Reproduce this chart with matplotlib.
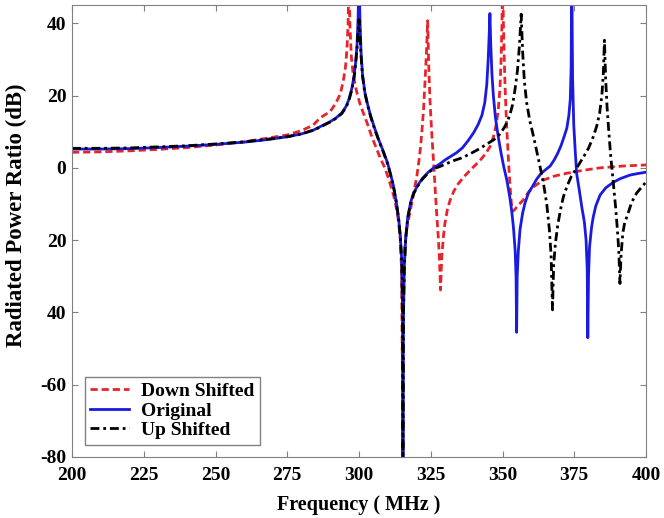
import matplotlib
matplotlib.use("Agg")
import matplotlib.pyplot as plt

# frequency (MHz) / radiated power ratio (dB) for each tuning case
freq_down = [200, 210, 220, 230, 240, 250, 260, 268, 275, 280, 284, 286.4,
             290, 292, 293.5, 294.5, 295.3, 295.8, 296.2, 296.5, 296.8, 297.3,
             298, 299.2, 300.4, 301.5, 303, 304.5, 306, 307.5, 309, 310.5,
             312, 313, 313.8, 314.4, 314.8, 315.1, 315.4, 315.9, 316.7, 317.8,
             318.8, 319.5, 320.1, 320.8, 321.4, 321.9, 322.5, 323.0, 323.5, 323.9,
             324.3, 324.7, 325.3, 325.9, 326.5, 327.0, 327.6, 328.0, 328.4, 328.8,
             329.4, 329.9, 330.8, 331.7, 333, 334.5, 336.5, 339.8, 342, 344,
             345.6, 346.8, 347.8, 348.5, 349.1, 349.5, 349.8, 350.0, 350.3, 350.6,
             350.9, 351.4, 352.0, 352.6, 353.1, 353.6, 354.3, 355.5, 357.2, 359,
             360.7, 364.2, 368, 372.4, 378, 384, 392, 400]
db_down = [4.3, 4.4, 4.7, 5.1, 5.6, 6.3, 7.2, 8.2, 9.1, 10.3, 11.8, 13.8,
           15.6, 18, 20.5, 24, 28, 33, 40, 55, 40, 31,
           25.5, 21, 17.5, 15.2, 12, 8.5, 5.5, 2.5, 0, -3.5,
           -7.5, -11, -15, -20, -28, -55, -30, -22, -16.5, -12,
           -8, -5, -2.6, 1.5, 5.5, 10, 16.5, 24, 32, 40.7,
           28, 19, 10, 2.5, -5.5, -12, -19, -25, -33.8, -25,
           -19, -15.5, -11.5, -9, -6.5, -4.5, -2.5, 0.2, 1.9, 3.8,
           5.8, 8.5, 12, 16, 22, 30, 40, 55, 40, 30,
           22, 12, 3, -5, -10, -12, -11.5, -10.3, -8.9, -6.8,
           -5.3, -3.4, -2.3, -1.5, -0.7, 0.0, 0.5, 0.8]

freq_orig = [200, 210, 220, 230, 240, 250, 260, 268, 275, 280, 284, 286,
             288, 290, 292, 294, 295.5, 296.5, 297.5, 298.2, 298.8, 299.3,
             299.7, 300.0, 300.3, 300.7, 301.2, 302, 303, 304, 305.5, 307,
             308.5, 310, 311, 312, 313, 313.8, 314.4, 314.9, 315.15, 315.3,
             315.5, 315.8, 316.3, 317, 318, 319, 320.5, 322, 324, 326,
             328, 330, 332, 334, 336, 338, 340, 341.5, 342.8, 343.8,
             344.5, 345.0, 345.4, 345.6, 345.9, 346.3, 346.8, 347.5, 348.5, 349.5,
             350.5, 351.5, 352.5, 353.2, 353.8, 354.4, 354.7, 354.9, 355.1, 355.5,
             356.1, 357, 357.8, 359, 360.7, 362, 363.5, 365, 366.6, 368,
             369.2, 370.3, 371.4, 372.4, 373.1, 373.6, 373.9, 374.1, 374.4, 374.8,
             375.3, 375.8, 376.7, 377.6, 378.5, 379.1, 379.5, 379.7, 379.95, 380.3,
             381, 381.6, 382.5, 384, 386, 388.6, 391, 394.4, 397, 400]
db_orig = [5.2, 5.2, 5.3, 5.6, 6.0, 6.5, 7.1, 7.8, 8.6, 9.4, 10.4, 11.2,
           12, 12.8, 13.8, 15.2, 17, 19, 22, 25, 29, 34,
           42, 55, 42, 32, 26, 21, 17.5, 14.5, 10.8, 7.5,
           4.5, 1.2, -1.8, -5, -9.5, -14, -19, -26, -40, -82,
           -40, -27, -19, -13.5, -9.5, -7, -4.8, -3, -1.3, 0,
           1.0, 2.2, 3.2, 4.2, 5.5, 7.5, 9.8, 12, 14.5, 18,
           23, 30, 38, 42.7, 34, 26, 20, 14, 8.6, 4,
           0, -3.4, -8, -12, -16.5, -23, -30, -45.5, -30, -23,
           -17, -12.5, -9.8, -7, -4.8, -3, -1.5, -0.5, 0.5, 2.2,
           4, 6, 8.5, 11, 14.5, 19, 28, 55, 25, 12,
           4.9, -1.5, -6, -10.8, -15, -20, -28, -47, -30, -22,
           -16.5, -13.6, -10.5, -7.5, -5.5, -4, -3, -2, -1.6, -1.2]

freq_up = [200, 210, 220, 230, 240, 250, 260, 268, 275, 280, 284, 286,
           288, 290, 292, 294, 295.5, 296.5, 297.5, 298.2, 298.8, 299.3,
           299.7, 300.0, 300.3, 300.7, 301.2, 302, 303, 304, 305.5, 307,
           308.5, 310, 311, 312, 313, 313.8, 314.4, 314.9, 315.15, 315.3,
           315.5, 315.8, 316.3, 317, 318, 319, 320.5, 322, 324, 326,
           328, 330, 333, 336, 339, 342, 345, 347, 349, 350.5,
           351.5, 352.5, 353.5, 354.4, 355.2, 355.9, 356.5, 357.0, 357.6, 358.4,
           359.5, 360.7, 361.8, 363.1, 364.3, 365.4, 366.3, 366.9, 367.4, 367.8,
           368.4, 369.2, 370.2, 371.2, 372.5, 374, 376, 378.2, 380, 381.6,
           382.8, 383.8, 384.6, 385.1, 385.5, 385.9, 386.4, 386.9, 387.6, 388.6,
           389.4, 390, 390.5, 390.9, 391.3, 391.9, 392.6, 393.3, 395, 396.7,
           398.5, 400]
db_up = [5.4, 5.4, 5.5, 5.8, 6.1, 6.6, 7.2, 7.9, 8.6, 9.4, 10.4, 11.1,
         11.9, 12.7, 13.7, 15, 16.8, 18.7, 21.6, 24.5, 28.5, 33,
         38, 41, 37, 31, 25.5, 20.8, 17.3, 14.3, 10.6, 7.3,
         4.3, 1.0, -2, -5.2, -9.7, -14.2, -19.3, -26.5, -40, -82,
         -40, -27.5, -19.3, -13.8, -9.7, -7.2, -5, -3.2, -1.5, -0.2,
         0.3, 1.0, 2, 2.8, 4, 5.3, 6.8, 7.8, 9.3, 11,
         12.5, 14.5, 17.5, 22, 27, 34, 42.5, 32, 24, 18,
         13, 9, 5, 0.2, -4.5, -10, -17, -24, -39.3, -27,
         -21, -16, -11.5, -8, -5, -2.3, 0.2, 3, 5.5, 8.6,
         11.5, 15, 20, 26, 35.3, 25, 17, 11.3, 4, -4.3,
         -11, -17, -23, -32, -24, -18, -15, -13.6, -9.5, -7,
         -5.3, -3.9]

x_ticks = [200, 225, 250, 275, 300, 325, 350, 375, 400]
y_ticks = [40, 20, 0, -20, -40, -60, -80]
y_tick_labels = ["40", "20", "0", "20", "40", "-60", "-80"]

plt.rcParams["font.family"] = "Liberation Serif"
plt.rcParams["font.weight"] = "bold"

fig = plt.figure(figsize=(6.64, 5.18), dpi=100)
ax = fig.add_axes([0.1084, 0.1178, 0.8646, 0.8722])

ax.plot(freq_down, db_down, color="#e8242a", lw=2.0, dashes=(2.6, 1.4),
        label="Down Shifted")
ax.plot(freq_orig, db_orig, "-", color="#1a1ae0", lw=2.0, label="Original")
ax.plot(freq_up, db_up, color="black", lw=2.0, dashes=(3.2, 1.4, 1.0, 1.4),
        label="Up Shifted")

ax.set_xlim(200, 400)
ax.set_ylim(-80, 45)
ax.set_xticks(x_ticks)
ax.set_yticks(y_ticks)
ax.set_yticklabels(y_tick_labels)
ax.tick_params(direction="in", top=True, right=True, length=4,
               labelsize=14, color="#808080")
ax.tick_params(axis="x", pad=7)
ax.tick_params(axis="y", pad=4)
for lab in ax.get_xticklabels() + ax.get_yticklabels():
    lab.set_fontweight("bold")
for sp in ax.spines.values():
    sp.set_color("#808080")

ax.set_xlabel("Frequency ( MHz )", fontsize=14.5, fontweight="bold", labelpad=8)
ax.set_ylabel("Radiated Power Ratio (dB)", fontsize=16.5, fontweight="bold")
ax.yaxis.set_label_coords(-0.078, 0.535)

leg = ax.legend(loc="lower left", fontsize=14, handlelength=2.0,
                fancybox=False, framealpha=1, edgecolor="#808080",
                borderpad=0.3, labelspacing=0.1, handletextpad=0.6,
                bbox_to_anchor=(0.005, 0.005))
for t in leg.get_texts():
    t.set_fontweight("bold")

fig.savefig("out.png", dpi=100)
